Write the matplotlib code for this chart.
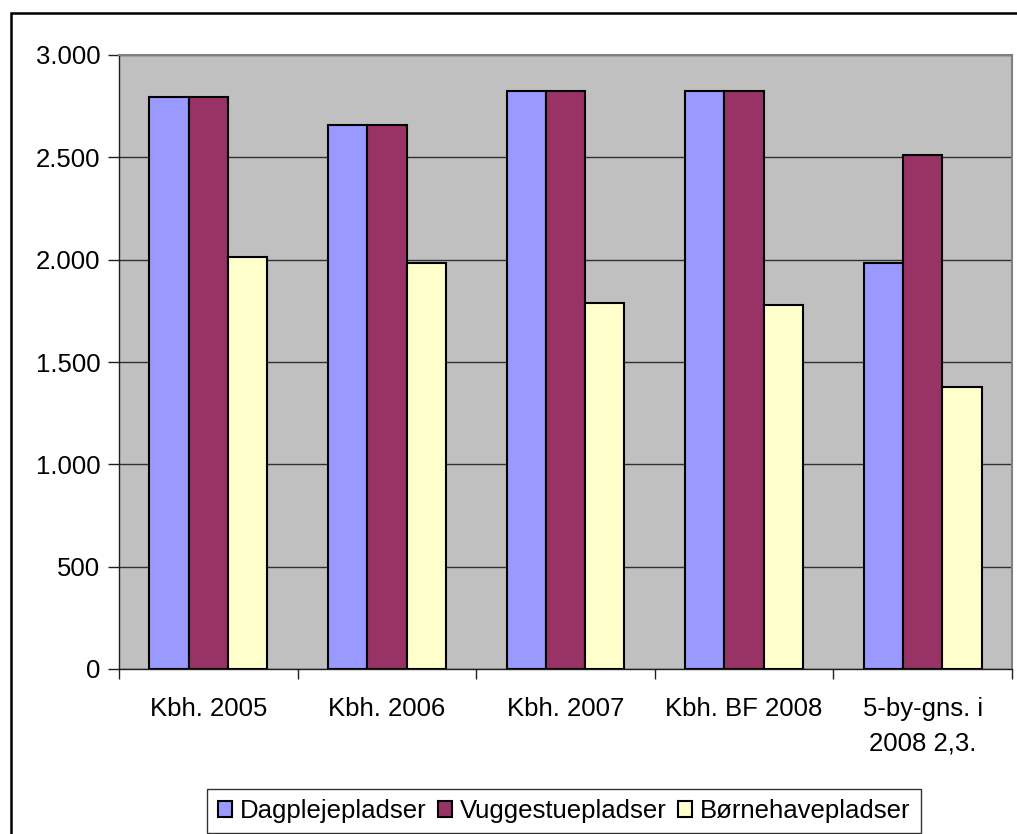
import numpy as np
import matplotlib
matplotlib.use("Agg")
import matplotlib.pyplot as plt
from matplotlib.ticker import FuncFormatter, FixedLocator
from matplotlib.patches import Rectangle

plt.rcParams['font.family'] = ['Liberation Sans', 'DejaVu Sans']

categories = ["Kbh. 2005", "Kbh. 2006", "Kbh. 2007", "Kbh. BF 2008", "5-by-gns. i\n2008 2,3."]
series_names = ["Dagplejepladser", "Vuggestuepladser", "Børnehavepladser"]
dagpleje = [2794, 2656, 2824, 2824, 1983]
vuggestue = [2794, 2656, 2824, 2824, 2510]
boernehave = [2011, 1983, 1788, 1777, 1378]
colors = ["#9999FF", "#993366", "#FFFFCC"]

W, H = 1017, 834
fs = 18.5
fig = plt.figure(figsize=(W / 100, H / 100), dpi=100)
ax = fig.add_axes([119 / W, 1 - 669 / H, (1012 - 119) / W, (669 - 55) / H])
ax.set_facecolor("#C0C0C0")

x = np.arange(len(categories))
bw = 0.22
for i, (vals, name, c) in enumerate(zip([dagpleje, vuggestue, boernehave], series_names, colors)):
    ax.bar(x + (i - 1) * bw, vals, bw, color=c, edgecolor="black", linewidth=1.5,
           label=name, zorder=3)

ax.set_xlim(-0.5, len(categories) - 0.5)
ax.set_ylim(0, 3000)
ax.set_yticks(np.arange(0, 3001, 500))
ax.yaxis.set_major_formatter(FuncFormatter(lambda v, p: f"{int(v):,}".replace(",", ".")))
ax.grid(axis="y", color="#303030", linewidth=1.0, zorder=1)
ax.set_axisbelow(True)

# labels at centres, tick marks at category boundaries
ax.set_xticks(x)
ax.set_xticklabels(categories, fontsize=fs, linespacing=1.55)
ax.xaxis.set_minor_locator(FixedLocator(np.arange(-0.5, len(categories), 1.0)))
ax.tick_params(axis="x", which="major", length=0, pad=20)
ax.tick_params(axis="x", which="minor", length=7, width=1, color="#202020")
ax.tick_params(axis="y", length=8, width=1, pad=5.5, labelsize=fs, color="#202020")

for s in ["left", "bottom"]:
    ax.spines[s].set_color("#202020")
    ax.spines[s].set_linewidth(1)
for s in ["top", "right"]:
    ax.spines[s].set_color("#808080")
    ax.spines[s].set_linewidth(1.5)

leg = fig.legend(loc="center", bbox_to_anchor=(564 / W, 1 - 811 / H), ncol=3, fontsize=fs,
                 frameon=True, fancybox=False, shadow=False, handlelength=0.55, handleheight=0.55,
                 handletextpad=0.3, columnspacing=0.45, borderpad=0.4, borderaxespad=0)
leg.get_frame().set_edgecolor("black")
leg.get_frame().set_linewidth(1)

# outer chart border (right and bottom edges fall outside the image)
fig.patches.append(Rectangle((11 / W, -0.05), 1.1, 1 - 13 / H + 0.05, transform=fig.transFigure,
                             fill=False, edgecolor="black", linewidth=1.8))

fig.savefig("out.png", dpi=100)
